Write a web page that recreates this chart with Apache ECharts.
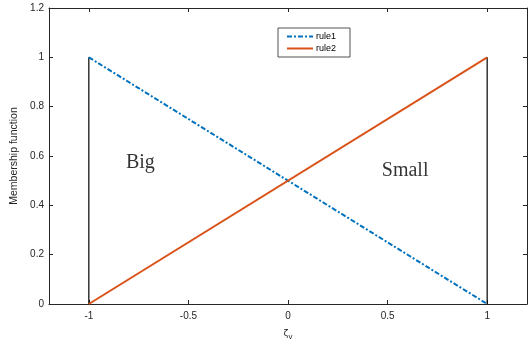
<!DOCTYPE html>
<html>
<head>
<meta charset="utf-8">
<script src="https://cdn.jsdelivr.net/npm/echarts@6/dist/echarts.min.js"></script>
<style>
  html, body { margin: 0; padding: 0; background: #fff; }
  #chart { width: 532px; height: 348px; }
</style>
</head>
<body>
<div id="chart"></div>
<script>
// x positions of the line ends
const xValues = [-1, 1]
const rule1 = [1, 0]
const rule2 = [0, 1]
// vertical edges drawn in black
const edgeX = [-1, 1]
const edgeTop = [1, 1]
// text annotations inside the plot
const noteText = ['Big', 'Small']
const noteX = [-0.741, 0.588]
const noteY = [0.573, 0.54]
// tick labels
const xTicks = [-1, -0.5, 0, 0.5, 1]

const axisColor = '#262626'
const labelFont = { fontFamily: 'Liberation Sans, Arial, sans-serif', fontSize: 10, color: '#262626' }

const chart = echarts.init(document.getElementById('chart'))

const edgeSeries = edgeX.map((x, i) => ({
  type: 'line',
  name: 'edge' + i,
  data: [[x, 0], [x, edgeTop[i]]],
  symbol: 'none',
  lineStyle: { color: '#000', width: 1.2 },
  silent: true,
  z: 1
}))

const option = {
  animation: false,
  grid: { left: 49, right: 5, top: 8, bottom: 44, show: false },
  legend: {
    top: 28,
    left: 278,
    orient: 'vertical',
    data: ['rule1', 'rule2'],
    itemWidth: 26,
    itemHeight: 8,
    itemGap: 3,
    padding: [4, 14, 4, 8],
    borderColor: '#262626',
    borderWidth: 0.8,
    backgroundColor: '#fff',
    itemStyle: { opacity: 0 },
    textStyle: { fontFamily: 'Liberation Sans, Arial, sans-serif', fontSize: 9, color: '#000', padding: [0, 0, 0, -2] }
  },
  xAxis: [
    {
      type: 'value',
      min: -1.2,
      max: 1.2,
      position: 'bottom',
      name: '{z|ζ}{s|v}',
      nameLocation: 'middle',
      nameGap: 23,
      nameTextStyle: {
        rich: {
          z: { fontFamily: 'DejaVu Sans, sans-serif', fontSize: 9, color: '#262626' },
          s: { fontFamily: 'Liberation Sans, sans-serif', fontSize: 8, color: '#262626', padding: [6, 0, 0, 0] }
        }
      },
      axisLine: { show: true, onZero: false, lineStyle: { color: axisColor, width: 1 } },
      axisTick: { show: true, inside: true, length: 4, customValues: xTicks, lineStyle: { color: axisColor } },
      axisLabel: { customValues: xTicks, margin: 7, ...labelFont },
      splitLine: { show: false }
    },
    {
      type: 'value',
      min: -1.2,
      max: 1.2,
      position: 'top',
      axisLine: { show: true, onZero: false, lineStyle: { color: axisColor, width: 1 } },
      axisTick: { show: true, inside: true, length: 4, customValues: xTicks, lineStyle: { color: axisColor } },
      axisLabel: { show: false },
      splitLine: { show: false }
    }
  ],
  yAxis: [
    {
      type: 'value',
      min: 0,
      max: 1.2,
      interval: 0.2,
      position: 'left',
      name: 'Membership function',
      nameLocation: 'middle',
      nameGap: 29,
      nameTextStyle: { fontFamily: 'Liberation Sans, Arial, sans-serif', fontSize: 10.5, color: '#262626' },
      axisLine: { show: true, onZero: false, lineStyle: { color: axisColor, width: 1 } },
      axisTick: { show: true, inside: true, length: 4, lineStyle: { color: axisColor } },
      axisLabel: { margin: 5, ...labelFont, formatter: v => String(+v.toFixed(1)) },
      splitLine: { show: false }
    },
    {
      type: 'value',
      min: 0,
      max: 1.2,
      interval: 0.2,
      position: 'right',
      axisLine: { show: true, onZero: false, lineStyle: { color: axisColor, width: 1 } },
      axisTick: { show: true, inside: true, length: 4, lineStyle: { color: axisColor } },
      axisLabel: { show: false },
      splitLine: { show: false }
    }
  ],
  series: [
    ...edgeSeries,
    {
      type: 'line',
      name: 'rule1',
      data: xValues.map((x, i) => [x, rule1[i]]),
      symbol: 'none',
      color: '#0072BD',
      lineStyle: { color: '#0072BD', width: 2, type: [5, 2, 2, 2] },
      z: 3
    },
    {
      type: 'line',
      name: 'rule2',
      data: xValues.map((x, i) => [x, rule2[i]]),
      symbol: 'none',
      color: '#D95319',
      lineStyle: { color: '#D95319', width: 2 },
      z: 3
    },
    {
      type: 'scatter',
      name: 'notes',
      data: noteText.map((t, i) => ({ value: [noteX[i], noteY[i]], name: t })),
      symbolSize: 0,
      silent: true,
      label: {
        show: true,
        position: 'inside',
        formatter: p => p.name,
        fontFamily: 'Liberation Serif, Times New Roman, serif',
        fontSize: 20,
        color: '#000'
      },
      z: 4
    }
  ]
}

chart.setOption(option)
</script>
</body>
</html>
